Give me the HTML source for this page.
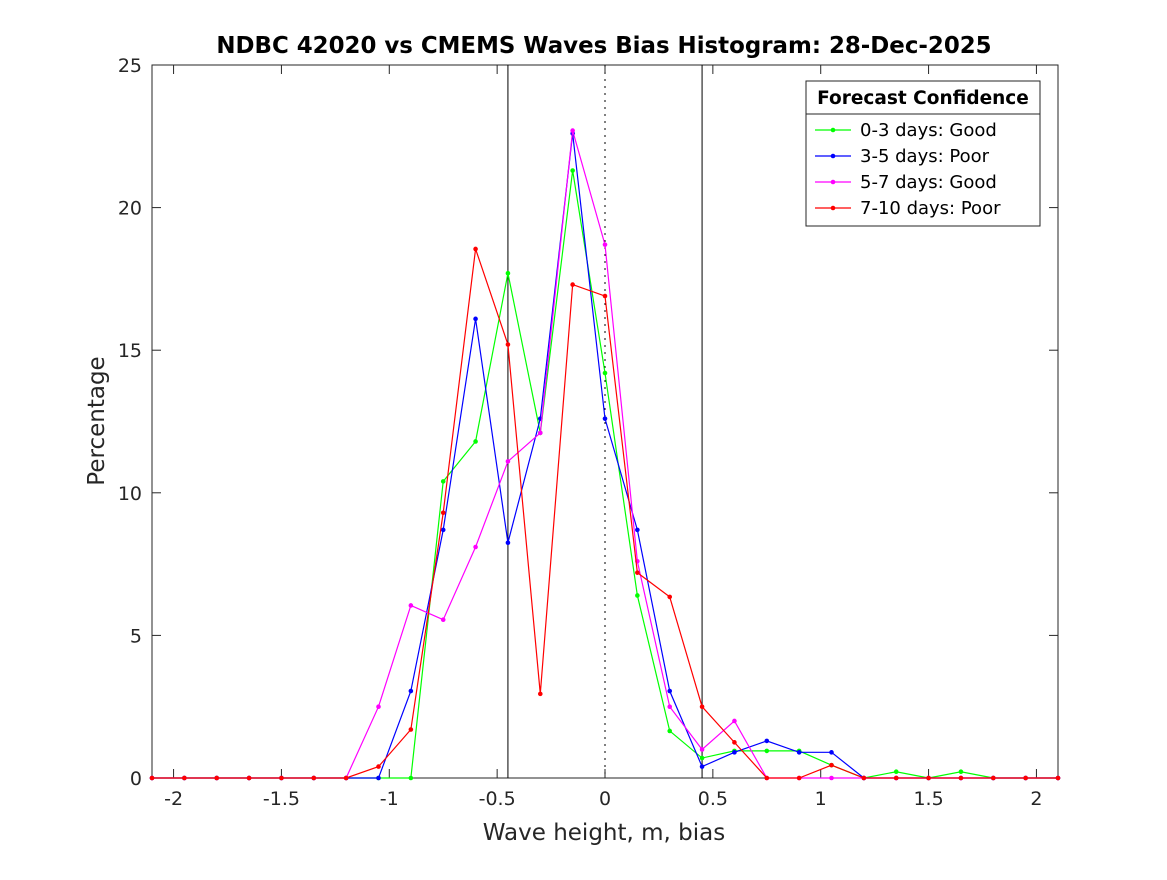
<!DOCTYPE html>
<html><head><meta charset="utf-8"><style>
body{margin:0;background:#fff;}
svg text{font-family:"DejaVu Sans","Liberation Sans",sans-serif;}
</style></head><body>
<svg id="chart" width="1167" height="875">
<rect width="1167" height="875" fill="#fff"/>
<g id="plot"></g>
</svg>
<script>
const xBins=[-2.1,-1.95,-1.8,-1.65,-1.5,-1.35,-1.2,-1.05,-0.9,-0.75,-0.6,-0.45,-0.3,-0.15,0,0.15,0.3,0.45,0.6,0.75,0.9,1.05,1.2,1.35,1.5,1.65,1.8,1.95,2.1];
const green=[0,0,0,0,0,0,0,0,0,10.4,11.8,17.7,12.1,21.3,14.2,6.4,1.65,0.7,0.95,0.95,0.95,0.45,0,0.22,0,0.22,0,0,0];
const blue=[0,0,0,0,0,0,0,0,3.05,8.7,16.1,8.25,12.6,22.6,12.6,8.7,3.05,0.4,0.9,1.3,0.9,0.9,0,0,0,0,0,0,0];
const magenta=[0,0,0,0,0,0,0,2.5,6.05,5.55,8.1,11.1,12.1,22.7,18.7,7.6,2.5,1.0,2.0,0,0,0,0,0,0,0,0,0,0];
const red=[0,0,0,0,0,0,0,0.4,1.7,9.3,18.55,15.2,2.95,17.3,16.9,7.2,6.35,2.5,1.25,0,0,0.45,0,0,0,0,0,0,0];
const xTicks=[-2,-1.5,-1,-0.5,0,0.5,1,1.5,2];
const xTickLabels=["-2","-1.5","-1","-0.5","0","0.5","1","1.5","2"];
const yTicks=[0,5,10,15,20,25];
const seriesNames=["0-3 days: Good","3-5 days: Poor","5-7 days: Good","7-10 days: Poor"];
const L=152,R=1058,T=65,B=778;
const X=v=>L+(v+2.1)/4.2*(R-L);
const Y=v=>B-v/25*(B-T);
const NS="http://www.w3.org/2000/svg";
const g=document.getElementById('plot');
function mk(tag,attrs,parent){const e=document.createElementNS(NS,tag);for(const k in attrs)e.setAttribute(k,attrs[k]);(parent||g).appendChild(e);return e;}
let e=mk('rect',{x:L,y:T,width:R-L,height:B-T,fill:'none',stroke:'#262626','stroke-width':1});


xTicks.forEach((t,i)=>{
 const x=X(t);
 mk('line',{x1:x,y1:B,x2:x,y2:B-9,stroke:'#262626'});
 mk('line',{x1:x,y1:T,x2:x,y2:T+9,stroke:'#262626'});
 const tx=mk('text',{x:x,y:B+27,'font-size':19,'text-anchor':'middle',fill:'#262626'});
 tx.textContent=xTickLabels[i];
 
 
});
yTicks.forEach(t=>{
 const y=Y(t);
 mk('line',{x1:L,y1:y,x2:L+9,y2:y,stroke:'#262626'});
 mk('line',{x1:R,y1:y,x2:R-9,y2:y,stroke:'#262626'});
 const tx=mk('text',{x:L-10,y:y+7,'font-size':19,'text-anchor':'end',fill:'#262626'});
 tx.textContent=String(t);
 
 
});
[-0.45,0.45].forEach(v=>{
 const l=mk('line',{x1:X(v),y1:T,x2:X(v),y2:B,stroke:'#000','stroke-width':1});
 
 
});
e=mk('line',{x1:X(0),y1:T,x2:X(0),y2:B,stroke:'#000','stroke-dasharray':'2,5'});


const colors=['#00ff00','#0000ff','#ff00ff','#ff0000'];
const data=[green,blue,magenta,red];
data.forEach((s,si)=>{
 const pts=s.map((v,i)=>X(xBins[i])+','+Y(v)).join(' ');
 const pl=mk('polyline',{points:pts,fill:'none',stroke:colors[si],'stroke-width':1.2});
 
 
 s.forEach((v,i)=>{
  const c=mk('circle',{cx:X(xBins[i]),cy:Y(v),r:2.3,fill:colors[si]});
  
  
 });
});
const lg=mk('g',{});


mk('rect',{x:806,y:81,width:234,height:145,fill:'#fff',stroke:'#262626'},lg);
mk('line',{x1:806,y1:114,x2:1040,y2:114,stroke:'#262626'},lg);
e=mk('text',{x:923,y:104,'font-size':18.5,'font-weight':'bold','text-anchor':'middle',fill:'#000'},lg);
e.textContent='Forecast Confidence';


seriesNames.forEach((n,i)=>{
 const y=130+i*26;
 mk('line',{x1:815,y1:y,x2:851,y2:y,stroke:colors[i],'stroke-width':1.2},lg);
 mk('circle',{cx:833,cy:y,r:2.3,fill:colors[i]},lg);
 const t=mk('text',{x:860,y:y+6,'font-size':18,fill:'#000'},lg);
 t.textContent=n;
 
 
});
e=mk('text',{x:604,y:53,'font-size':22.9,'font-weight':'bold','text-anchor':'middle',fill:'#000'});
e.textContent='NDBC 42020 vs CMEMS Waves Bias Histogram: 28-Dec-2025';


e=mk('text',{x:604,y:840,'font-size':23,'text-anchor':'middle',fill:'#262626'});
e.textContent='Wave height, m, bias';


e=mk('text',{x:0,y:0,'font-size':23,'text-anchor':'middle',fill:'#262626',transform:'translate(104,421) rotate(-90)'});
e.textContent='Percentage';


</script>
</body></html>
